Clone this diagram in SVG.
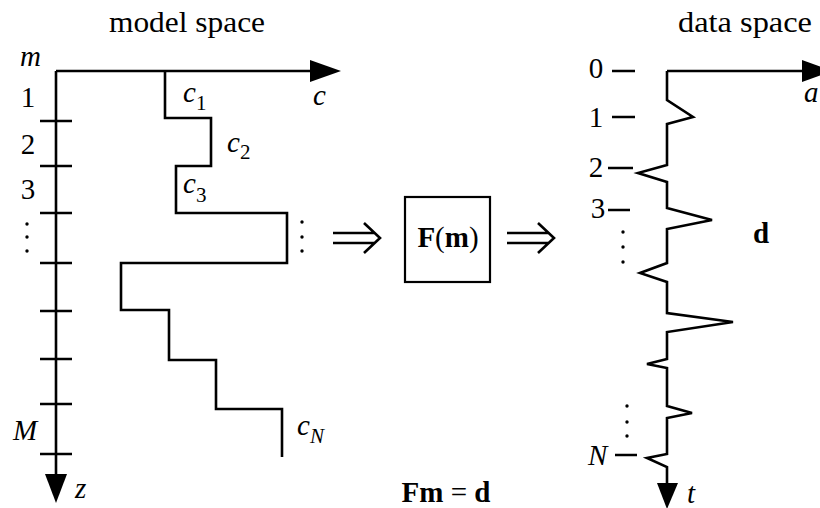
<svg xmlns="http://www.w3.org/2000/svg" width="820" height="508" viewBox="0 0 820 508" font-family="'Liberation Serif', 'Times New Roman', 'DejaVu Serif', serif">
<style>
.ln{fill:none;stroke:#000;stroke-width:2.6;stroke-linejoin:miter;stroke-linecap:butt}
.hd{fill:#000;stroke:none}
.t{font-family:'Liberation Serif','Times New Roman','DejaVu Serif',serif;font-size:29px;fill:#000}
.i{font-style:italic}
.b{font-weight:bold}
.s{font-size:21px}
.dot{fill:#000}
</style>
<rect width="820" height="508" fill="#fff"/>

<g id="titles">
<text class="t" x="187" y="32" text-anchor="middle" font-size="30" textLength="156" lengthAdjust="spacingAndGlyphs">model space</text>
<text class="t" x="745" y="32" text-anchor="middle" font-size="30" textLength="134" lengthAdjust="spacingAndGlyphs">data space</text>
</g>

<g id="model-axes">
<path class="ln" d="M56,71 H312 M56,71 V476"/>
<path class="hd" d="M310,60 L341,71 L310,82 Z"/>
<path class="hd" d="M45,474 L67,474 L56,503 Z"/>
<path class="ln" d="M40,121 H72 M40,166 H72 M40,213 H72 M40,263 H72 M40,311 H72 M40,359 H72 M40,404 H72 M40,454 H72"/>
<text class="t i" x="20" y="66">m</text>
<text class="t" x="28" y="107" text-anchor="middle">1</text>
<text class="t" x="28" y="154" text-anchor="middle">2</text>
<text class="t" x="28" y="199" text-anchor="middle">3</text>
<circle class="dot" cx="27" cy="224" r="1.7"/>
<circle class="dot" cx="27" cy="237" r="1.7"/>
<circle class="dot" cx="27" cy="251" r="1.7"/>
<text class="t i" x="13" y="440">M</text>
<text class="t i" x="75" y="498">z</text>
<text class="t i" x="313" y="105">c</text>
</g>

<g id="model-profile">
<path class="ln" d="M165,71 V118 H211 V166 H176 V213 H287 V263 H121 V310 H169 V360 H216 V409 H282 V457"/>
<text class="t i" x="183" y="102">c<tspan class="s" font-style="normal" dy="8">1</tspan></text>
<text class="t i" x="227" y="152">c<tspan class="s" font-style="normal" dy="7">2</tspan></text>
<text class="t i" x="183" y="193">c<tspan class="s" font-style="normal" dy="9">3</tspan></text>
<text class="t i" x="297" y="435">c<tspan class="s" dy="8">N</tspan></text>
<circle class="dot" cx="302" cy="222" r="1.7"/>
<circle class="dot" cx="302" cy="237" r="1.7"/>
<circle class="dot" cx="302" cy="251" r="1.7"/>
</g>

<g id="operator">
<rect x="405" y="197" width="85" height="85" fill="none" stroke="#000" stroke-width="2.2"/>
<text class="t" x="448" y="247" text-anchor="middle" font-size="31"><tspan class="b">F</tspan>(<tspan class="b">m</tspan>)</text>
</g>

<g id="connectors">
<path class="ln" stroke-width="2.2" d="M333,233 H374 M333,243 H374 M364,223 L380,238 L364,253"/>
<path class="ln" stroke-width="2.2" d="M507,233 H548 M507,243 H548 M538,223 L554,238 L538,253"/>
</g>

<g id="data-axes">
<path class="ln" d="M667,71 H804"/>
<path class="hd" d="M802,60 L833,71 L802,82 Z"/>
<path class="ln" d="M612,71 H635 M612,117 H635 M608,168 H633 M608,210 H630 M615,455 H637"/>
<path class="hd" d="M657,483 L678,483 L667,509 Z"/>
<text class="t" x="596" y="78" text-anchor="middle">0</text>
<text class="t" x="596" y="127" text-anchor="middle">1</text>
<text class="t" x="596" y="177" text-anchor="middle">2</text>
<text class="t" x="598" y="218" text-anchor="middle">3</text>
<circle class="dot" cx="623" cy="232" r="1.7"/>
<circle class="dot" cx="623" cy="247" r="1.7"/>
<circle class="dot" cx="623" cy="262" r="1.7"/>
<circle class="dot" cx="627" cy="406" r="1.7"/>
<circle class="dot" cx="627" cy="422" r="1.7"/>
<circle class="dot" cx="627" cy="436" r="1.7"/>
<text class="t i" x="588" y="465">N</text>
<text class="t i" x="687" y="503">t</text>
<text class="t i" x="804" y="102">a</text>
</g>

<g id="data-trace">
<path class="ln" d="M667,71 V100 L693,117 L667,124 V165 L638,173 L667,182 V208 L712,220 L667,229 V263 L640,273 L667,282 V313 L733,322 L667,332 V359 L647,364 L667,368 V406 L692,413 L667,418 V454 L647,458 L667,467 V485"/>
<text class="t b" x="753" y="243">d</text>
</g>

<g id="equation">
<text class="t" x="446" y="502" text-anchor="middle" font-size="30"><tspan class="b">Fm</tspan> = <tspan class="b">d</tspan></text>
</g>
</svg>
